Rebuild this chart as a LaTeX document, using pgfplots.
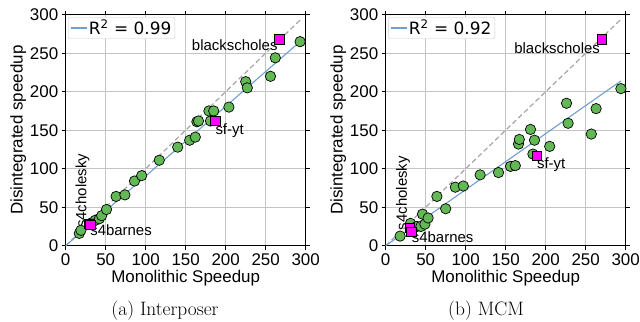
\documentclass[border=0pt]{standalone}
\usepackage{pgfplots}
\pgfplotsset{compat=1.18}
\usepackage{fontspec}
\newfontfamily\axisfont{Liberation Sans}
\newfontfamily\legfont{DejaVu Sans}
\definecolor{ptgreen}{RGB}{98,184,84}
\definecolor{regblue}{RGB}{110,158,210}
\definecolor{gridgray}{RGB}{195,195,195}
\definecolor{leggray}{RGB}{204,204,204}
\definecolor{dashgray}{RGB}{165,165,165}
\definecolor{hlmag}{RGB}{255,0,255}

\pgfplotstableread{
x y
17 16
19 20
33 30
37 33
42 35
45 39
51 47
63 64
74 66
86 84
95 91
117 111
140 128
155 137
162 141
164 161
166 162
181 162
179 175
185 175
204 180
225 213
227 205
256 220
262 244
293 265
}\interdata
\pgfplotstableread{
x y
18 12.5
31 29
39 25
44 25
46 41
49 28
53 36
64 64
75 48
87 76
97 77.5
118 92
141 95
156 103
162 104
166 132
167 138
181 151
186 137
184 119
205 129
226 185
228 159
257 145
263 178
294 204
}\mcmdata
\pgfplotstableread{
x y
29 28
31 27
187 162
267 268
}\interhl
\pgfplotstableread{
x y
30 23
32 18
189 117
270 268
}\mcmhl

\tikzset{ann/.style={font=\axisfont\fontsize{15}{17}\selectfont, inner sep=0pt}}
\pgfplotsset{
  myax/.style={
    scale only axis, width=240bp, height=231bp,
    xmin=0, xmax=300, ymin=0, ymax=300,
    xtick={0,50,...,300}, ytick={0,50,...,300},
    tick align=outside, major tick length=4bp,
    tick style={black, line width=0.8bp},
    grid=major, grid style={gridgray, line width=0.8bp},
    axis line style={black, line width=0.9bp},
    font=\axisfont\fontsize{17}{19}\selectfont,
    /pgf/number format/assume math mode=true,
    xlabel={Monolithic Speedup}, ylabel={Disintegrated speedup},
    xlabel style={yshift=2bp},
    ylabel style={yshift=-3bp},
    legend style={at={(0.01,0.99)}, anchor=north west, draw=leggray,
      rounded corners=2bp, inner xsep=2bp, inner ysep=1bp,
      font=\legfont\fontsize{17}{19}\selectfont,
      nodes={inner sep=1.5bp}},
    legend cell align=left,
    legend image code/.code={\draw[#1] (0bp,0bp) -- (16bp,0bp);},
  },
  pts/.style={only marks, mark=*, mark size=5.2bp,
    mark options={fill=ptgreen, draw=black, line width=0.7bp}, forget plot},
  hl/.style={only marks, mark=square*, mark size=4.7bp,
    mark options={fill=hlmag, draw=black, line width=0.7bp}, forget plot},
  diag/.style={dashgray, dash pattern=on 5bp off 3bp, line width=1.2bp, forget plot},
}

\begin{document}
\begin{tikzpicture}
\path[use as bounding box] (0,0) rectangle (640bp,322bp);

\begin{axis}[myax, at={(65.7bp,76.3bp)}, anchor=south west]
\addplot[diag] coordinates {(0,0) (295,295)};
\addplot[regblue, line width=1.1bp] coordinates {(0,0) (294,266)};
\addlegendentry{R\textsuperscript{2} = 0.99}
\addplot[pts] table[x=x,y=y] {\interdata};
\addplot[hl] table[x=x,y=y] {\interhl};
\node[ann, anchor=north east] at (axis cs:265,268) {blackscholes};
\node[ann, anchor=north west] at (axis cs:187,159) {sf-yt};
\node[ann, anchor=north west] at (axis cs:30.5,28) {s4barnes};
\node[ann, anchor=west, rotate=90] at (axis cs:21,23) {s4cholesky};
\end{axis}

\begin{axis}[myax, at={(385.7bp,76.3bp)}, anchor=south west]
\addplot[diag] coordinates {(0,0) (295,295)};
\addplot[regblue, line width=1.1bp] coordinates {(0,0) (294,214)};
\addlegendentry{R\textsuperscript{2} = 0.92}
\addplot[pts] table[x=x,y=y] {\mcmdata};
\addplot[hl] table[x=x,y=y] {\mcmhl};
\node[ann, anchor=north east] at (axis cs:268,264.5) {blackscholes};
\node[ann, anchor=north west] at (axis cs:189,115) {sf-yt};
\node[ann, anchor=north west] at (axis cs:32.5,18) {s4barnes};
\node[ann, anchor=west, rotate=90] at (axis cs:21.6,20) {s4cholesky};
\end{axis}

\node[anchor=base, font=\fontsize{19.5}{21}\selectfont] at (165bp,7bp) {(a) Interposer};
\node[anchor=base, font=\fontsize{19.5}{21}\selectfont] at (486bp,7bp) {(b) MCM};
\end{tikzpicture}
\end{document}
